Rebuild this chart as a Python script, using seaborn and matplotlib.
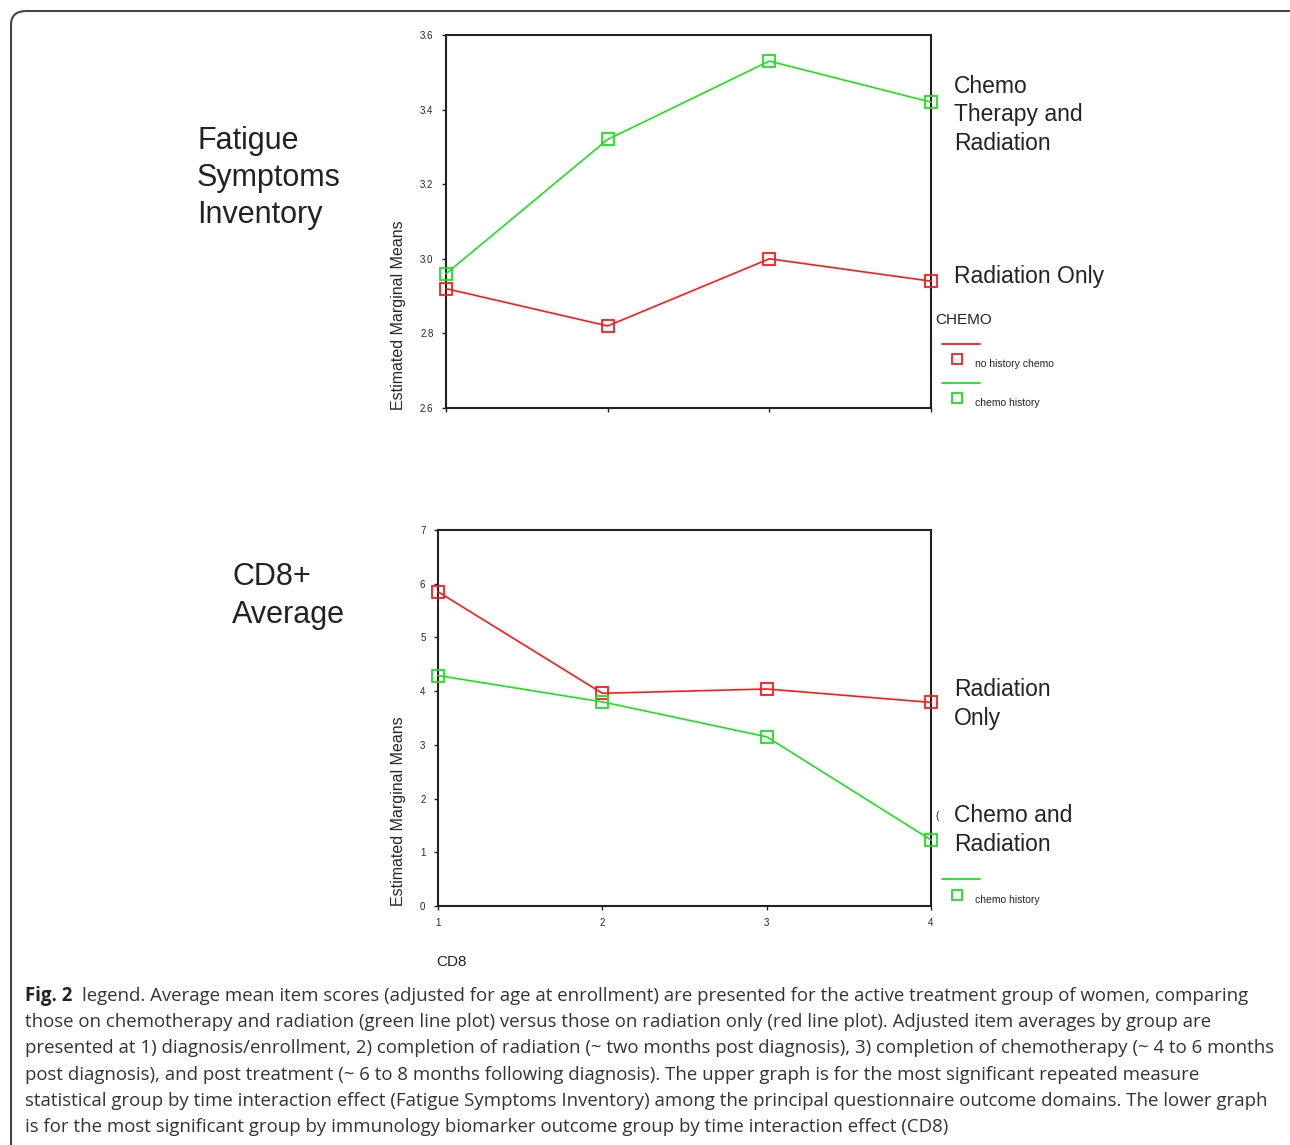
import numpy as np
import pandas as pd
import matplotlib.pyplot as plt
import seaborn as sns
from matplotlib.lines import Line2D
from matplotlib.patches import FancyBboxPatch

sns.set_theme(style="white")
plt.rcParams['font.family'] = ['Liberation Sans', 'DejaVu Sans']

# data
timepoints = [1, 2, 3, 4]
groups = ["no history chemo", "chemo history"]
fsi_no_chemo = [2.92, 2.82, 3.00, 2.94]
fsi_chemo = [2.96, 3.32, 3.53, 3.42]
cd8_no_chemo = [5.85, 3.96, 4.04, 3.79]
cd8_chemo = [4.29, 3.80, 3.15, 1.23]
fsi_yticks = [2.6, 2.8, 3.0, 3.2, 3.4, 3.6]
cd8_yticks = [0, 1, 2, 3, 4, 5, 6, 7]
palette = {"no history chemo": "#ff1a1a", "chemo history": "#1ee01e"}

fsi = pd.DataFrame({
    "time": timepoints * 2,
    "mean": fsi_no_chemo + fsi_chemo,
    "CHEMO": [groups[0]] * 4 + [groups[1]] * 4,
})
cd8 = pd.DataFrame({
    "time": timepoints * 2,
    "mean": cd8_no_chemo + cd8_chemo,
    "CHEMO": [groups[0]] * 4 + [groups[1]] * 4,
})

W, H = 1290, 1145
fig = plt.figure(figsize=(12.9, 11.45), dpi=100)


def fx(px):
    return px / W


def fy(py):
    return 1 - py / H


ax_top = fig.add_axes([fx(446), fy(408), fx(931 - 446), (408 - 35) / H])
ax_bot = fig.add_axes([fx(438), fy(906), fx(931 - 438), (906 - 530) / H])

for ax, df, yt in [(ax_top, fsi, fsi_yticks), (ax_bot, cd8, cd8_yticks)]:
    sns.lineplot(data=df, x="time", y="mean", hue="CHEMO", palette=palette,
                 marker="s", markersize=8, markerfacecolor="none",
                 linewidth=1.2, legend=False, ax=ax, clip_on=False, zorder=5)
    for ln in ax.lines:
        ln.set_markeredgecolor(ln.get_color())
        ln.set_markeredgewidth(1.3)
    ax.set_xlim(1, 4)
    ax.set_ylim(yt[0], yt[-1])
    ax.set_yticks(yt)
    ax.set_xticks(timepoints)
    ax.set_xlabel("")
    ax.set_ylabel("Estimated Marginal Means", fontsize=11.5, loc="bottom")
    for s in ax.spines.values():
        s.set_color("#222222")
        s.set_linewidth(1.5)
    ax.tick_params(axis="both", which="both", direction="out", length=3,
                   width=1, color="#222222", labelsize=7, left=True, bottom=True,
                   pad=6)

ax_top.yaxis.set_label_coords(-0.082, -0.005)
ax_bot.yaxis.set_label_coords(-0.064, 0.0)

ax_top.set_yticklabels([f"{v:.1f}" for v in fsi_yticks])
ax_top.set_xticklabels(["", "", "", ""])
ax_bot.set_yticklabels([str(v) for v in cd8_yticks])
ax_bot.set_xticklabels([str(v) for v in timepoints])

# side annotations
big = dict(fontsize=22, color="#222222", va="center", ha="left", linespacing=1.32)
fig.text(fx(197), fy(178), "Fatigue\nSymptoms\nInventory", **big)
fig.text(fx(232), fy(596), "CD8+\nAverage", **big)

mid = dict(fontsize=16.5, color="#222222", va="center", ha="left", linespacing=1.3)
fig.text(fx(954), fy(115), "Chemo\nTherapy and\nRadiation", **mid)
fig.text(fx(954), fy(277), "Radiation Only", **mid)
fig.text(fx(954), fy(704), "Radiation\nOnly", **mid)
fig.text(fx(954), fy(830), "Chemo and\nRadiation", **mid)
fig.text(fx(935), fy(816), "(", fontsize=7, color="#222222", va="center")

# legend block
fig.text(fx(935), fy(320), "CHEMO", fontsize=11, color="#222222", va="center")
legend_rows = [(344, 359, groups[0]), (383, 398, groups[1]), (879, 895, groups[1])]
for line_y, sq_y, name in legend_rows:
    col = palette[name]
    fig.add_artist(Line2D([fx(942), fx(980)], [fy(line_y), fy(line_y)],
                          color=col, lw=1.3, transform=fig.transFigure))
    fig.add_artist(Line2D([fx(957)], [fy(sq_y)], marker="s", markersize=6.5,
                          markerfacecolor="none", markeredgecolor=col,
                          markeredgewidth=1.3, transform=fig.transFigure))
    fig.text(fx(975), fy(sq_y + 5), name, fontsize=7.5, color="#222222",
             va="center", ha="left")

fig.text(fx(436), fy(962), "CD8", fontsize=11, color="#222222", va="center")

# caption
caption = [
    "legend. Average mean item scores (adjusted for age at enrollment) are presented for the active treatment group of women, comparing",
    "those on chemotherapy and radiation (green line plot) versus those on radiation only (red line plot). Adjusted item averages by group are",
    "presented at 1) diagnosis/enrollment, 2) completion of radiation (~ two months post diagnosis), 3) completion of chemotherapy (~ 4 to 6 months",
    "post diagnosis), and post treatment (~ 6 to 8 months following diagnosis). The upper graph is for the most significant repeated measure",
    "statistical group by time interaction effect (Fatigue Symptoms Inventory) among the principal questionnaire outcome domains. The lower graph",
    "is for the most significant group by immunology biomarker outcome group by time interaction effect (CD8)",
]
cap_font = ['Open Sans', 'DejaVu Sans']
for i, line in enumerate(caption):
    y = 996 + i * 26.2
    if i == 0:
        fig.text(fx(25), fy(y), "Fig. 2", fontsize=13.4, fontweight="bold",
                 family=cap_font, color="#222222", va="center")
        fig.text(fx(82), fy(y), line, fontsize=13.4, family=cap_font,
                 color="#333333", va="center")
    else:
        fig.text(fx(25), fy(y), line, fontsize=13.4, family=cap_font,
                 color="#333333", va="center")

# rounded frame
frame = FancyBboxPatch((fx(11), fy(1160)), fx(1300), (1160 - 11) / H,
                       boxstyle="round,pad=0,rounding_size=0.012",
                       transform=fig.transFigure, fill=False,
                       edgecolor="#444444", lw=1.5)
fig.add_artist(frame)

fig.savefig("out.png", dpi=100)
